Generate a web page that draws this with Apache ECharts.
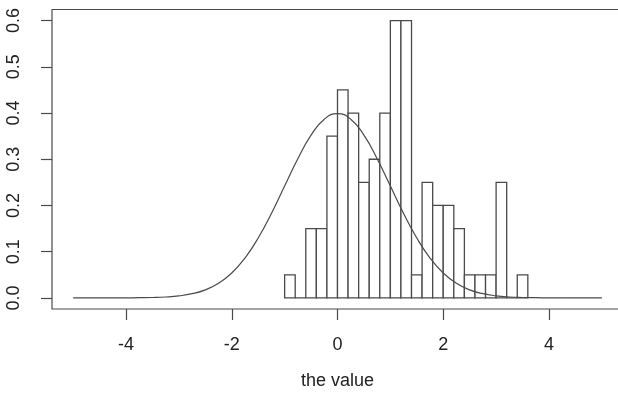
<!DOCTYPE html>
<html>
<head>
<meta charset="utf-8">
<script src="https://cdn.jsdelivr.net/npm/echarts@6/dist/echarts.min.js"></script>
<style>
html,body{margin:0;padding:0;background:#fff;}
#chart{width:618px;height:395px;}
</style>
</head>
<body>
<div id="chart"></div>
<script>
// Histogram bin edges (breaks) and density of each bin
var binEdges = [-1.0,-0.8,-0.6,-0.4,-0.2,0.0,0.2,0.4,0.6,0.8,1.0,1.2,1.4,1.6,1.8,2.0,2.2,2.4,2.6,2.8,3.0,3.2,3.4,3.6];
var densities = [0.05,0,0.15,0.15,0.35,0.45,0.40,0.25,0.30,0.40,0.60,0.60,0.05,0.25,0.20,0.20,0.15,0.05,0.05,0.05,0.25,0,0.05];

// Density curve
var curveX = [-5,-4.75,-4.5,-4.25,-4,-3.75,-3.5,-3.25,-3,-2.75,-2.5,-2.25,-2,-1.75,-1.5,-1.25,-1,-0.75,-0.5,-0.25,0,0.25,0.5,0.75,1,1.25,1.5,1.75,2,2.25,2.5,2.75,3,3.25,3.5,3.75,4,4.25,4.5,4.75,5];
var curveY = [0,0,0,0,0.0001,0.0004,0.0009,0.002,0.0044,0.0091,0.0175,0.0317,0.054,0.0863,0.1295,0.1826,0.242,0.3011,0.3521,0.3867,0.3989,0.3867,0.3521,0.3011,0.242,0.1826,0.1295,0.0863,0.054,0.0317,0.0175,0.0091,0.0044,0.002,0.0009,0.0004,0.0001,0,0,0,0];

// Tick labels
var xTicks = [-4,-2,0,2,4];
var yTicks = [0,0.1,0.2,0.3,0.4,0.5,0.6];

var barData = [];
for (var i = 0; i < densities.length; i++) {
  barData.push([binEdges[i], binEdges[i+1], densities[i]]);
}
var lineData = curveX.map(function(x, i){ return [x, curveY[i]]; });

var ink = '#4a4a4a';
var txt = '#222';
var font = 'Liberation Sans';

var chart = echarts.init(document.getElementById('chart'), null, {renderer:'canvas'});
chart.setOption({
  animation: false,
  backgroundColor: '#fff',
  grid: {left: 52, width: 571, top: 9.5, bottom: 86, outerBoundsMode: 'none', containLabel: false,
         show: true, borderColor: ink, borderWidth: 1.2, backgroundColor: 'transparent'},
  xAxis: {
    type: 'value', min: -5.4, max: 5.4,
    axisLine: {show: false, onZero: false},
    splitLine: {show: false},
    axisTick: {show: true, length: 11, customValues: xTicks, lineStyle: {color: ink, width: 1.2}},
    axisLabel: {show: true, customValues: xTicks, margin: 27, fontFamily: font, fontSize: 18, color: txt},
    name: 'the value', nameLocation: 'middle', nameGap: 63,
    nameTextStyle: {fontFamily: font, fontSize: 18, color: txt}
  },
  yAxis: {
    type: 'value', min: -0.024, max: 0.624,
    axisLine: {show: false, onZero: false},
    splitLine: {show: false},
    axisTick: {show: true, length: 11, customValues: yTicks, lineStyle: {color: ink, width: 1.2}},
    axisLabel: {show: true, customValues: yTicks, rotate: 90, margin: 29, fontFamily: font, fontSize: 18, color: txt,
      formatter: function(v){ return Number(v).toFixed(1); }}
  },
  series: [
    {
      type: 'custom',
      data: barData,
      renderItem: function(params, api) {
        var p0 = api.coord([api.value(0), api.value(2)]);
        var p1 = api.coord([api.value(1), 0]);
        return {
          type: 'rect',
          shape: {x: p0[0], y: p0[1], width: p1[0] - p0[0], height: p1[1] - p0[1]},
          style: {fill: '#fff', stroke: ink, lineWidth: 1.3}
        };
      },
      encode: {x: [0, 1], y: 2}
    },
    {
      type: 'line',
      data: lineData,
      smooth: true,
      showSymbol: false,
      lineStyle: {color: ink, width: 1.2},
      z: 5
    }
  ]
});
</script>
</body>
</html>
